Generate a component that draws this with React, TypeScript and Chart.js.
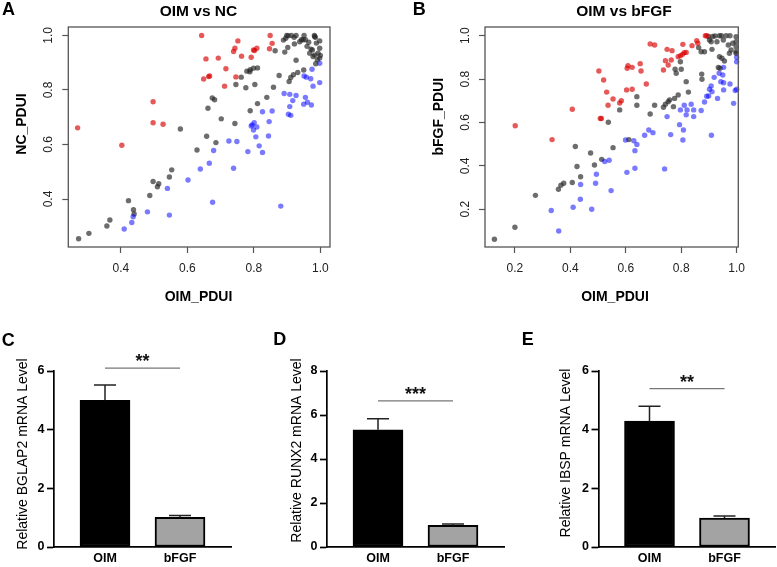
import React, { useEffect, useRef } from 'react';
import { Chart, registerables } from 'chart.js';

Chart.register(...registerables);

type Pt = [number, number];

// ---- Panel A: PDUI, OIM vs NC ----
const ncLengthened: Pt[] = [
  [0.270, 0.661], [0.403, 0.597], [0.497, 0.757], [0.497, 0.680], [0.527, 0.674],
  [0.643, 1.000], [0.649, 0.840], [0.656, 0.914], [0.664, 0.849], [0.667, 0.851],
  [0.693, 0.917], [0.716, 0.878], [0.712, 0.814], [0.739, 0.941], [0.743, 0.953],
  [0.752, 0.980], [0.746, 0.848], [0.763, 0.924], [0.792, 0.920], [0.799, 0.947],
  [0.802, 0.945], [0.809, 0.953], [0.849, 1.000], [0.847, 0.951], [0.855, 0.971],
];
const ncUnchanged: Pt[] = [
  [0.273, 0.254], [0.304, 0.274], [0.358, 0.301], [0.367, 0.323], [0.423, 0.394],
  [0.438, 0.361], [0.440, 0.345], [0.487, 0.413], [0.497, 0.464], [0.510, 0.445],
  [0.514, 0.456], [0.546, 0.481], [0.553, 0.507], [0.579, 0.657], [0.629, 0.580],
  [0.658, 0.630], [0.662, 0.733], [0.675, 0.771], [0.682, 0.764], [0.686, 0.607],
  [0.702, 0.694], [0.743, 0.677], [0.746, 0.820], [0.762, 0.847], [0.776, 0.808],
  [0.779, 0.869], [0.788, 0.867], [0.789, 0.874], [0.789, 0.724], [0.799, 0.880],
  [0.803, 0.820], [0.811, 0.881], [0.811, 0.750], [0.839, 0.773], [0.859, 0.810],
  [0.864, 0.944], [0.876, 0.853], [0.889, 0.983], [0.893, 0.939], [0.896, 0.990],
  [0.899, 1.000], [0.902, 0.956], [0.903, 0.999], [0.906, 0.831], [0.911, 0.846],
  [0.919, 0.856], [0.913, 1.000], [0.921, 0.993], [0.922, 0.969], [0.927, 1.000],
  [0.927, 0.909], [0.932, 0.864], [0.938, 0.977], [0.943, 0.984], [0.948, 0.984],
  [0.950, 0.873], [0.951, 1.000], [0.955, 0.984], [0.960, 0.960], [0.965, 0.975],
  [0.968, 0.935], [0.972, 0.950], [0.976, 0.947], [0.978, 0.923], [0.982, 1.000],
  [0.983, 0.996], [0.983, 0.928], [0.985, 0.993], [0.986, 0.896], [0.988, 0.972],
  [0.991, 0.911], [0.993, 0.935], [0.998, 0.980], [0.998, 0.953], [0.998, 0.917],
  [1.000, 0.927],
];
const ncShortened: Pt[] = [
  [0.410, 0.290], [0.433, 0.314], [0.437, 0.335], [0.480, 0.353], [0.540, 0.439],
  [0.546, 0.341], [0.602, 0.470], [0.639, 0.510], [0.666, 0.531], [0.676, 0.388],
  [0.679, 0.578], [0.725, 0.613], [0.739, 0.513], [0.749, 0.611], [0.782, 0.574],
  [0.792, 0.668], [0.795, 0.672], [0.799, 0.653], [0.801, 0.680], [0.809, 0.664],
  [0.806, 0.628], [0.816, 0.595], [0.826, 0.720], [0.826, 0.571], [0.844, 0.631],
  [0.846, 0.684], [0.855, 0.723], [0.881, 0.374], [0.891, 0.787], [0.904, 0.711],
  [0.908, 0.739], [0.911, 0.707], [0.908, 0.784], [0.917, 0.761], [0.927, 0.780],
  [0.951, 0.851], [0.950, 0.748], [0.955, 0.773], [0.958, 0.847], [0.961, 0.755],
  [0.971, 0.841], [0.973, 0.745], [0.975, 0.876], [0.978, 0.814], [0.998, 0.898],
  [0.998, 0.827],
];
const ticksA = [0.4, 0.6, 0.8, 1.0];

// ---- Panel B: PDUI, OIM vs bFGF ----
const bfgfLengthened: Pt[] = [
  [0.201, 0.585], [0.334, 0.521], [0.407, 0.661], [0.503, 0.837], [0.520, 0.796],
  [0.531, 0.740], [0.536, 0.679], [0.554, 0.708], [0.578, 0.690], [0.584, 0.700],
  [0.508, 0.618], [0.512, 0.618], [0.603, 0.750], [0.623, 0.753], [0.605, 0.850],
  [0.608, 0.862], [0.623, 0.854], [0.652, 0.871], [0.655, 0.837], [0.674, 0.777],
  [0.688, 0.962], [0.704, 0.957], [0.736, 0.842], [0.743, 0.885], [0.749, 0.937],
  [0.753, 0.865], [0.764, 0.888], [0.767, 0.931], [0.789, 0.903], [0.797, 0.908],
  [0.806, 0.960], [0.805, 0.914], [0.811, 0.922], [0.818, 0.923], [0.839, 0.954],
  [0.856, 0.977], [0.860, 0.965], [0.887, 1.000], [0.892, 1.000],
];
const bfgfUnchanged: Pt[] = [
  [0.126, 0.062], [0.200, 0.117], [0.274, 0.264], [0.357, 0.292], [0.366, 0.311],
  [0.376, 0.320], [0.407, 0.323], [0.418, 0.489], [0.424, 0.397], [0.437, 0.350],
  [0.473, 0.459], [0.487, 0.404], [0.513, 0.430], [0.537, 0.601], [0.554, 0.484],
  [0.578, 0.658], [0.611, 0.521], [0.640, 0.719], [0.640, 0.679], [0.688, 0.639],
  [0.704, 0.679], [0.736, 0.670], [0.743, 0.684], [0.753, 0.696], [0.758, 0.704],
  [0.772, 0.673], [0.776, 0.711], [0.789, 0.727], [0.778, 0.845], [0.782, 0.827],
  [0.797, 0.880], [0.800, 0.845], [0.818, 0.788], [0.826, 0.740], [0.874, 0.823],
  [0.875, 0.799], [0.863, 0.945], [0.872, 0.926], [0.884, 0.926], [0.899, 0.996],
  [0.902, 0.980], [0.908, 0.972], [0.914, 0.996], [0.911, 0.937], [0.922, 0.999],
  [0.929, 0.972], [0.938, 1.000], [0.945, 1.000], [0.952, 0.980], [0.962, 1.000],
  [0.976, 1.000], [0.970, 0.957], [0.980, 0.934], [0.998, 0.995], [0.998, 0.972],
  [0.998, 0.949], [0.998, 0.926], [0.998, 0.919], [0.986, 0.965], [0.974, 0.919],
  [0.938, 0.903], [0.947, 0.896], [0.956, 0.883], [0.934, 0.853], [0.940, 0.850],
];
const bfgfShortened: Pt[] = [
  [0.331, 0.194], [0.358, 0.100], [0.410, 0.209], [0.436, 0.246], [0.437, 0.314],
  [0.477, 0.200], [0.491, 0.320], [0.494, 0.361], [0.524, 0.420], [0.540, 0.426],
  [0.547, 0.286], [0.604, 0.370], [0.599, 0.519], [0.629, 0.516], [0.633, 0.470],
  [0.640, 0.499], [0.633, 0.389], [0.668, 0.541], [0.683, 0.565], [0.698, 0.553],
  [0.740, 0.386], [0.749, 0.627], [0.762, 0.544], [0.794, 0.590], [0.797, 0.658],
  [0.806, 0.519], [0.808, 0.565], [0.811, 0.679], [0.818, 0.635], [0.821, 0.658],
  [0.836, 0.684], [0.845, 0.658], [0.845, 0.627], [0.872, 0.655], [0.884, 0.694],
  [0.892, 0.721], [0.899, 0.722], [0.902, 0.753], [0.908, 0.768], [0.909, 0.541],
  [0.911, 0.742], [0.919, 0.808], [0.931, 0.711], [0.937, 0.827], [0.943, 0.788],
  [0.950, 0.819], [0.953, 0.783], [0.953, 0.750], [0.953, 0.854], [0.976, 0.777],
  [0.989, 0.688], [0.995, 0.747], [1.000, 0.753], [1.000, 0.900], [1.000, 0.880],
];
const ticksB = [0.2, 0.4, 0.6, 0.8, 1.0];

// ---- Panels C–E: relative mRNA levels (mean, SEM) ----
const groups = ['OIM', 'bFGF'];
const bglap2Mean = [5.0, 1.01];
const bglap2Sem = [0.52, 0.06];
const runx2Mean = [5.33, 0.98];
const runx2Sem = [0.5, 0.07];
const ibspMean = [4.29, 0.99];
const ibspSem = [0.51, 0.07];
const bglap2Ticks = [0, 2, 4, 6];
const runx2Ticks = [0, 2, 4, 6, 8];
const ibspTicks = [0, 2, 4, 6];
const bglap2Stars = '**';
const runx2Stars = '***';
const ibspStars = '**';

// ---- drawing constants ----
const W = 777;
const H = 567;
const FONT = "'Liberation Sans', Arial, Helvetica, sans-serif";
const RED = 'rgba(215, 0, 0, 0.65)';
const GREY = 'rgba(40, 40, 40, 0.68)';
const BLUE = 'rgba(0, 0, 255, 0.52)';
const FRAME = '#555';

type Label = {
  text: string;
  x: number;
  y: number;
  size: number;
  bold?: boolean;
  rotate?: boolean;
  align?: CanvasTextAlign;
};

function textPlugin(labels: Label[]) {
  return {
    id: 'panelText',
    afterDraw(chart: any) {
      const ctx: CanvasRenderingContext2D = chart.ctx;
      for (const l of labels) {
        ctx.save();
        ctx.font = `${l.bold ? 'bold ' : ''}${l.size}px ${FONT}`;
        ctx.fillStyle = '#000';
        ctx.translate(l.x, l.y);
        if (l.rotate) {
          ctx.rotate(-Math.PI / 2);
          ctx.textAlign = 'center';
          ctx.textBaseline = 'middle';
        } else {
          ctx.textAlign = l.align ?? 'left';
          ctx.textBaseline = 'alphabetic';
        }
        ctx.fillText(l.text, 0, 0);
        ctx.restore();
      }
    },
  };
}

const framePlugin = {
  id: 'plotFrame',
  afterDraw(chart: any) {
    const { ctx, chartArea: a } = chart;
    ctx.save();
    ctx.strokeStyle = FRAME;
    ctx.lineWidth = 1.3;
    ctx.strokeRect(a.left, a.top, a.right - a.left, a.bottom - a.top);
    ctx.restore();
  },
};

type Area = { l: number; t: number; r: number; b: number };

function pts(list: Pt[]) {
  return list.map(([x, y]) => ({ x, y }));
}

function scatterConfig(
  up: Pt[], same: Pt[], down: Pt[],
  area: Area, xr: [number, number], yr: [number, number],
  xTicks: number[], yTicks: number[], labels: Label[],
) {
  const yW = 40;
  const xH = 30;
  const tickFont = { family: FONT, size: 12 };
  const grid = {
    drawOnChartArea: false, drawTicks: true, tickLength: 6,
    tickColor: FRAME, tickWidth: 1.2,
  };
  const ds = (data: Pt[], color: string) => ({
    data: pts(data), backgroundColor: color, borderWidth: 0,
    pointRadius: 2.7, pointHoverRadius: 2.7, clip: false as any,
  });
  return {
    type: 'scatter',
    data: { datasets: [ds(up, RED), ds(down, BLUE), ds(same, GREY)] },
    options: {
      animation: false, responsive: false, events: [], devicePixelRatio: 1,
      layout: {
        padding: { left: area.l - yW, top: area.t, right: W - area.r, bottom: H - area.b - xH },
      },
      plugins: { legend: { display: false }, tooltip: { enabled: false } },
      scales: {
        x: {
          type: 'linear', min: xr[0], max: xr[1],
          afterFit: (s: any) => { s.height = xH; },
          afterBuildTicks: (s: any) => { s.ticks = xTicks.map((v) => ({ value: v })); },
          grid, border: { display: false },
          ticks: {
            padding: 8, color: '#222', font: tickFont, autoSkip: false, maxRotation: 0,
            callback: (v: any) => Number(v).toFixed(1),
          },
        },
        y: {
          type: 'linear', min: yr[0], max: yr[1],
          afterFit: (s: any) => { s.width = yW; },
          afterBuildTicks: (s: any) => { s.ticks = yTicks.map((v) => ({ value: v })); },
          grid, border: { display: false },
          ticks: {
            padding: 5, color: '#222', font: tickFont, autoSkip: false,
            minRotation: 90, maxRotation: 90, crossAlign: 'center',
            callback: (v: any) => Number(v).toFixed(1),
          },
        },
      },
    },
    plugins: [framePlugin, textPlugin(labels)],
  };
}

function barExtras(means: number[], sems: number[], level: number, stars: string) {
  return {
    id: 'barExtras',
    afterDatasetsDraw(chart: any) {
      const { ctx, scales: { x, y } } = chart;
      ctx.save();
      ctx.strokeStyle = '#222';
      ctx.lineWidth = 1.5;
      means.forEach((m, i) => {
        const px = x.getPixelForValue(i);
        const base = y.getPixelForValue(m);
        const top = y.getPixelForValue(m + sems[i]);
        ctx.beginPath();
        ctx.moveTo(px, base);
        ctx.lineTo(px, top);
        ctx.moveTo(px - 11, top);
        ctx.lineTo(px + 11, top);
        ctx.stroke();
      });
      const x0 = x.getPixelForValue(0);
      const x1 = x.getPixelForValue(1);
      const ly = y.getPixelForValue(level);
      ctx.strokeStyle = '#777';
      ctx.lineWidth = 1.3;
      ctx.beginPath();
      ctx.moveTo(x0, ly);
      ctx.lineTo(x1, ly);
      ctx.stroke();
      ctx.fillStyle = '#111';
      ctx.font = `bold 18px ${FONT}`;
      ctx.textAlign = 'center';
      ctx.textBaseline = 'alphabetic';
      ctx.fillText(stars, (x0 + x1) / 2, ly - 1);
      ctx.restore();
    },
  };
}

function barConfig(
  means: number[], sems: number[], yTicks: number[], yMax: number,
  level: number, stars: string, left: number, labels: Label[],
) {
  const area: Area = { l: left, t: 371, r: left + 177, b: 547 };
  const yW = 30;
  const xH = 18;
  const tickFont = { family: FONT, size: 12.5, weight: 'bold' as const };
  return {
    type: 'bar',
    data: {
      datasets: [{
        data: means.map((y, i) => ({ x: i, y })),
        backgroundColor: ['#000000', '#a3a3a3'],
        borderColor: '#000000',
        borderWidth: 2,
        borderSkipped: false,
        barThickness: 50,
      }],
    },
    options: {
      animation: false, responsive: false, events: [], devicePixelRatio: 1,
      layout: {
        padding: { left: area.l - yW, top: area.t, right: W - area.r, bottom: H - area.b - xH },
      },
      plugins: { legend: { display: false }, tooltip: { enabled: false } },
      scales: {
        x: {
          type: 'linear', min: -0.68, max: 1.68, offset: false,
          afterFit: (s: any) => { s.height = xH; },
          afterBuildTicks: (s: any) => { s.ticks = groups.map((_, i) => ({ value: i })); },
          grid: { drawOnChartArea: false, drawTicks: false, offset: false },
          border: { display: true, color: '#000', width: 1.7 },
          ticks: {
            padding: 4, color: '#000', font: tickFont, autoSkip: false, maxRotation: 0,
            callback: (v: any) => groups[Math.round(Number(v))] ?? '',
          },
        },
        y: {
          type: 'linear', min: 0, max: yMax,
          afterFit: (s: any) => { s.width = yW; },
          afterBuildTicks: (s: any) => { s.ticks = yTicks.map((v) => ({ value: v })); },
          grid: {
            drawOnChartArea: false, drawTicks: true, tickLength: 7,
            tickColor: '#000', tickWidth: 1.7,
          },
          border: { display: true, color: '#000', width: 1.7 },
          ticks: { padding: 2.5, color: '#000', font: tickFont, autoSkip: false },
        },
      },
    },
    plugins: [barExtras(means, sems, level, stars), textPlugin(labels)],
  };
}

const makeA = () => scatterConfig(
  ncLengthened, ncUnchanged, ncShortened,
  { l: 68.3, t: 27, r: 330, b: 247 }, [0.242, 1.029], [0.224, 1.031],
  ticksA, ticksA,
  [
    { text: 'A', x: 2, y: 14.5, size: 18, bold: true },
    { text: 'OIM vs NC', x: 198.5, y: 16, size: 15.5, bold: true, align: 'center' },
    { text: 'NC_PDUI', x: 21.7, y: 124, size: 14, bold: true, rotate: true },
    { text: 'OIM_PDUI', x: 198.5, y: 301, size: 14, bold: true, align: 'center' },
  ],
);

const makeB = () => scatterConfig(
  bfgfLengthened, bfgfUnchanged, bfgfShortened,
  { l: 485, t: 27, r: 738.3, b: 247 }, [0.092, 1.006], [0.026, 1.04],
  ticksB, ticksB,
  [
    { text: 'B', x: 412.7, y: 14.5, size: 18, bold: true },
    { text: 'OIM vs bFGF', x: 624, y: 16, size: 15.5, bold: true, align: 'center' },
    { text: 'bFGF_PDUI', x: 439, y: 116.7, size: 14, bold: true, rotate: true },
    { text: 'OIM_PDUI', x: 615, y: 301, size: 14, bold: true, align: 'center' },
  ],
);

const makeC = () => barConfig(
  bglap2Mean, bglap2Sem, bglap2Ticks, 6, 6.1, bglap2Stars, 54,
  [
    { text: 'C', x: 1.7, y: 346, size: 18, bold: true },
    { text: 'Relative BGLAP2 mRNA Level', x: 23, y: 454, size: 14, rotate: true },
  ],
);

const makeD = () => barConfig(
  runx2Mean, runx2Sem, runx2Ticks, 8, 6.64, runx2Stars, 327,
  [
    { text: 'D', x: 273.3, y: 345, size: 18, bold: true },
    { text: 'Relative RUNX2 mRNA Level', x: 297.5, y: 450.5, size: 14, rotate: true },
  ],
);

const makeE = () => barConfig(
  ibspMean, ibspSem, ibspTicks, 6, 5.4, ibspStars, 598.5,
  [
    { text: 'E', x: 521.7, y: 345, size: 18, bold: true },
    { text: 'Relative IBSP mRNA Level', x: 566.5, y: 453, size: 14, rotate: true },
  ],
);

function Panel({ make }: { make: () => any }) {
  const ref = useRef<HTMLCanvasElement>(null);
  useEffect(() => {
    const chart = new Chart(ref.current as HTMLCanvasElement, make());
    return () => chart.destroy();
  }, [make]);
  return (
    <canvas
      ref={ref}
      width={W}
      height={H}
      style={{ position: 'absolute', left: 0, top: 0, width: W, height: H }}
    />
  );
}

export default function App() {
  return (
    <div
      style={{
        position: 'fixed', left: 0, top: 0, width: W, height: H,
        background: '#fff', overflow: 'hidden',
      }}
    >
      <Panel make={makeA} />
      <Panel make={makeB} />
      <Panel make={makeC} />
      <Panel make={makeD} />
      <Panel make={makeE} />
    </div>
  );
}
